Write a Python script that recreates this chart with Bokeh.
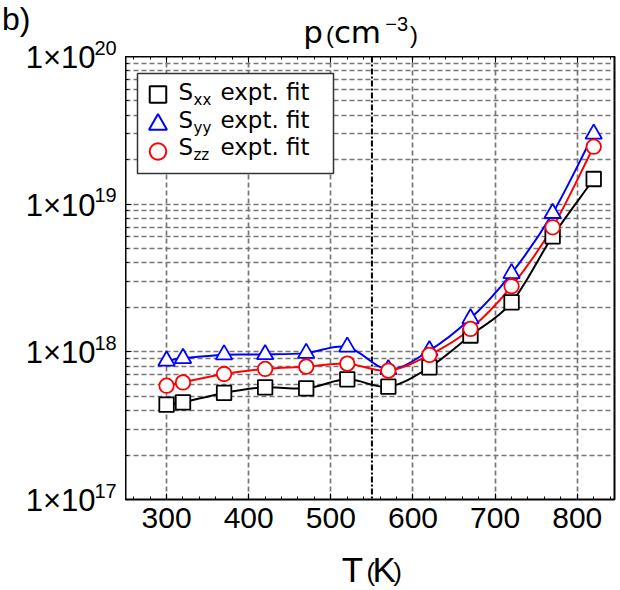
import numpy as np
from bokeh.plotting import figure
from bokeh.models import Range1d, FixedTicker, LinearAxis, Span, Label
from bokeh.layouts import row, column
from bokeh.embed import file_html
from bokeh.resources import INLINE

# ---------------- data ----------------
T = [300, 320, 370, 420, 470, 520, 570, 620, 670, 720, 770, 820]
S_xx = [4.39e17, 4.55e17, 5.27e17, 5.75e17, 5.66e17, 6.51e17, 5.81e17,
        7.85e17, 1.29e18, 2.16e18, 6.06e18, 1.48e19]
S_yy = [8.7e17, 9.04e17, 9.57e17, 9.6e17, 9.8e17, 1.08e18, 7.6e17,
        1.02e18, 1.68e18, 3.4e18, 8.68e18, 2.99e19]
S_zz = [5.9e17, 6.21e17, 7.08e17, 7.66e17, 7.94e17, 8.32e17, 7.46e17,
        9.53e17, 1.43e18, 2.78e18, 6.97e18, 2.45e19]
series_sub = ["xx", "yy", "zz"]
series_colors = ["black", "#0000ff", "#ff0000"]
series_markers = ["square", "triangle", "circle"]
x_ticks = [300, 400, 500, 600, 700, 800]
x_minor = list(range(260, 845, 20))
y_ticks = [1e17, 1e18, 1e19, 1e20]
y_exponents = ["17", "18", "19", "20"]
y_minor = [k * 10.0 ** n for n in (17, 18, 19) for k in range(2, 10)]
T_line = 550

# ---------------- layout constants (page pixels) ----------------
PAGE_W, PAGE_H = 620, 590
FLp, FTp, FW, FH = 125, 56, 489, 443      # frame left/top (page px) and size
BOTTOM_AXIS = 50                           # room for x tick labels
X0, X1 = 250.0, 250.0 + FW / 0.8214
LOG0, LOG1 = 17.0, 20.0
BASE_SHIFT = 0.35                          # label anchor -> baseline, in em


def px2x(px):
    return X0 + (px - FLp) * (X1 - X0) / FW


def px2y(py):
    return 10 ** (LOG1 - (py - FTp) * (LOG1 - LOG0) / FH)


def tick_py(v):
    return FTp + (LOG1 - np.log10(v)) * FH / (LOG1 - LOG0)


GRID_COLOR = "#767676"

# ---------------- main plot ----------------
p = figure(width=PAGE_W - FLp, height=FH + BOTTOM_AXIS,
           x_range=Range1d(X0, X1), y_range=Range1d(1e17, 1e20),
           y_axis_type="log", output_backend="svg", toolbar_location=None,
           title=None, min_border_left=0, min_border_top=0,
           min_border_right=PAGE_W - FLp - FW, min_border_bottom=BOTTOM_AXIS)
p.outline_line_color = "black"
p.outline_line_width = 2
p.background_fill_color = "white"
p.border_fill_color = "white"

xa = p.xaxis[0]
xa.ticker = FixedTicker(ticks=x_ticks, minor_ticks=x_minor)
xa.axis_line_color = None
xa.major_label_text_font = "Liberation Sans"
xa.major_label_text_font_size = "30px"
xa.major_label_text_color = "black"
xa.major_label_standoff = 8
xa.major_tick_in = 6
xa.major_tick_out = 0
xa.minor_tick_in = 3
xa.minor_tick_out = 0
xa.major_tick_line_color = "black"
xa.minor_tick_line_color = "black"

ta = LinearAxis(ticker=FixedTicker(ticks=x_ticks, minor_ticks=x_minor),
                major_label_text_font_size="0px", major_label_standoff=0,
                major_label_overrides={v: "" for v in x_ticks},
                axis_line_color=None, major_tick_in=6, major_tick_out=0,
                minor_tick_in=3, minor_tick_out=0,
                major_tick_line_color="black", minor_tick_line_color="black")
p.add_layout(ta, "above")

ya = p.yaxis[0]
ya.ticker = FixedTicker(ticks=y_ticks, minor_ticks=y_minor)
ya.axis_line_color = None
ya.major_label_text_font_size = "0px"
ya.major_label_standoff = 0
ya.major_label_overrides = {v: "" for v in y_ticks}
ya.major_tick_in = 6
ya.major_tick_out = 0
ya.minor_tick_in = 3
ya.minor_tick_out = 0
ya.major_tick_line_color = "black"
ya.minor_tick_line_color = "black"

gx = p.xgrid[0]
gx.ticker = FixedTicker(ticks=x_ticks)
gx.grid_line_color = GRID_COLOR
gx.grid_line_dash = "5 3"
gx.grid_line_width = 1.7
gy = p.ygrid[0]
gy.ticker = FixedTicker(ticks=y_ticks, minor_ticks=y_minor)
gy.grid_line_color = GRID_COLOR
gy.grid_line_dash = "5 3"
gy.grid_line_width = 1.7
gy.minor_grid_line_color = GRID_COLOR
gy.minor_grid_line_dash = "5 3"
gy.minor_grid_line_width = 1.7

p.add_layout(Span(location=T_line, dimension="height", line_color="black",
                  line_dash="6 2 2 2", line_width=2, level="underlay"))


def bezier_data(xs, ys):
    lx = np.asarray(xs, float)
    ly = np.log10(np.asarray(ys, float))
    n = len(lx)
    mx = np.empty(n)
    my = np.empty(n)
    for i in range(n):
        a, b = max(i - 1, 0), min(i + 1, n - 1)
        mx[i] = (lx[b] - lx[a]) / (b - a)
        my[i] = (ly[b] - ly[a]) / (b - a)
    return dict(x0=lx[:-1], y0=10 ** ly[:-1], x1=lx[1:], y1=10 ** ly[1:],
                cx0=lx[:-1] + mx[:-1] / 3, cy0=10 ** (ly[:-1] + my[:-1] / 3),
                cx1=lx[1:] - mx[1:] / 3, cy1=10 ** (ly[1:] - my[1:] / 3))


all_series = [S_xx, S_yy, S_zz]
for ys, col in zip(all_series, series_colors):
    d = bezier_data(T, ys)
    p.bezier(x0=d["x0"], y0=d["y0"], x1=d["x1"], y1=d["y1"],
             cx0=d["cx0"], cy0=d["cy0"], cx1=d["cx1"], cy1=d["cy1"],
             line_color=col, line_width=2)

marker_sizes = [14.5, 16.5, 14.5]
for ys, col, mk, sz in zip(all_series, series_colors, series_markers, marker_sizes):
    p.scatter(T, ys, marker=mk, size=sz, fill_color="white", line_color=col,
              line_width=1.8)

# legend (manual, so that the subscripts can be drawn)
p.quad(left=[px2x(137)], right=[px2x(333)], top=[px2y(73)], bottom=[px2y(173)],
       fill_color="white", line_color="#333333", line_width=1.5)
legend_marker_py = [94, 124, 151]
legend_sizes = [16.5, 18, 16.5]
for mk, col, py, sz in zip(series_markers, series_colors, legend_marker_py, legend_sizes):
    p.scatter([px2x(157.5)], [px2y(py)], marker=mk, size=sz, fill_color="white",
              line_color=col, line_width=2)


def plab(fig, text, x, base, size, font="Liberation Sans", align="left", log_panel=False):
    """Place text with its baseline at page pixel row `base`."""
    yy = base - BASE_SHIFT * size
    if log_panel:
        xd, yd = px2x(x), px2y(yy)
    else:
        xd, yd = x, yy
    fig.add_layout(Label(x=xd, y=yd, text=text, text_font=font,
                         text_font_size=f"{size}px", text_align=align,
                         text_baseline="alphabetic", text_color="black"))


for sub, base in zip(series_sub, [100, 127.5, 155]):
    plab(p, "S", 178, base, 23, font="DejaVu Sans", log_panel=True)
    plab(p, sub, 193, base + 5, 15, font="DejaVu Sans", log_panel=True)
    plab(p, "expt. fit", 220, base, 23, font="DejaVu Sans", log_panel=True)


# ---------------- text panels around the plot (page-pixel coordinates) ----------------
def text_panel(x0, y0, w, h):
    f = figure(width=w, height=h, x_range=Range1d(x0, x0 + w), y_range=Range1d(y0 + h, y0),
               x_axis_location=None, y_axis_location=None, min_border=0, title=None,
               toolbar_location=None, output_backend="svg")
    f.grid.visible = False
    f.outline_line_color = None
    f.background_fill_color = "white"
    f.border_fill_color = "white"
    return f


left_panel = text_panel(0, 0, FLp, PAGE_H)
top_panel = text_panel(FLp, 0, PAGE_W - FLp, FTp)
bottom_y = FTp + FH + BOTTOM_AXIS
bottom_panel = text_panel(FLp, bottom_y, PAGE_W - FLp, PAGE_H - bottom_y)

# y tick labels 1x10^n
for v, e in zip(y_ticks, y_exponents):
    ty = tick_py(v)
    plab(left_panel, "1×10", 95, ty + 12, 31, align="right")
    plab(left_panel, e, 94, ty - 2, 20)

plab(left_panel, "b)", 1.5, 30, 32)

# title p (cm^-3)
plab(top_panel, "p", 305, 42.7, 31, font="DejaVu Sans")
plab(top_panel, "(", 328, 42.7, 24)
plab(top_panel, "c", 336, 42.7, 31, font="DejaVu Sans")
plab(top_panel, "m", 353, 42.7, 31, font="DejaVu Sans")
plab(top_panel, "−3", 388, 30, 20)
plab(top_panel, ")", 413, 42.7, 24)

# x axis label T(K)
plab(bottom_panel, "T", 344, 581, 35)
plab(bottom_panel, "(", 369, 581, 26)
plab(bottom_panel, "K", 375, 581, 35)
plab(bottom_panel, ")", 396, 581, 26)

layout = row(left_panel, column(top_panel, p, bottom_panel))
open("out.html", "w").write(file_html(layout, INLINE))
